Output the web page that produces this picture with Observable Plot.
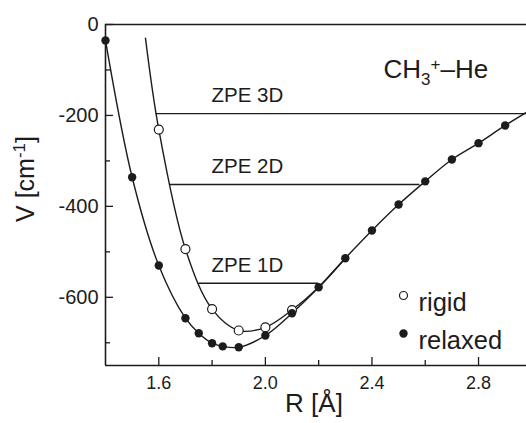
<!DOCTYPE html>
<html><head><meta charset="utf-8">
<script src="https://cdn.jsdelivr.net/npm/d3@7"></script>
<script src="https://cdn.jsdelivr.net/npm/@observablehq/plot@0.6"></script>
<style>
body{margin:0;background:#fff}
#chart svg{font-family:"Liberation Sans",Arial,Helvetica,sans-serif;background:#fff}
</style>
</head><body><div id="chart"></div>
<script>
// ---- data ----
const relaxedR = [1.4, 1.5, 1.6, 1.7, 1.75, 1.8, 1.84, 1.9, 2.0, 2.1, 2.2, 2.3, 2.4, 2.5, 2.6, 2.7, 2.8, 2.9];
const relaxedV = [-35, -336, -530, -646, -679, -701, -708, -710, -684, -635, -578, -514, -453, -396, -345, -297, -261, -222];
const rigidR = [1.6, 1.7, 1.8, 1.9, 2.0, 2.1];
const rigidV = [-231, -494, -626, -673, -666, -628];
// fitted curves (as drawn in the reference)
const relaxedCurveR = [...relaxedR, 3.0];
const relaxedCurveV = [...relaxedV, -186];
const rigidCurveR = [1.55, ...rigidR, 2.2, 2.3];
const rigidCurveV = [-30, ...rigidV, -578, -514];
// zero-point energy levels
const zpeLabels = ["ZPE 3D", "ZPE 2D", "ZPE 1D"];
const zpeV = [-196, -352, -569];
const zpeFrom = [1.59, 1.64, 1.75];
const zpeTo = [2.98, 2.58, 2.2];
// ticks
const xTicks = [1.6, 2.0, 2.4, 2.8];
const xMinor = [1.8, 2.2, 2.6];
const yTicks = [0, -200, -400, -600];
const yMinor = [-100, -300, -500, -700];
const legendLabels = ["rigid", "relaxed"];
const titleText = "CH3+–He";
const xLabel = "R [Å]";
const yLabel = "V [cm-1]";

// ---- build tables ----
const relaxed = relaxedR.map((r, i) => ({r, v: relaxedV[i]}));
const rigid = rigidR.map((r, i) => ({r, v: rigidV[i]}));
const relaxedCurve = relaxedCurveR.map((r, i) => ({r, v: relaxedCurveV[i]}));
const rigidCurve = rigidCurveR.map((r, i) => ({r, v: rigidCurveV[i]}));
const zpe = zpeLabels.map((label, i) => ({label, v: zpeV[i], x1: zpeFrom[i], x2: zpeTo[i]}));

const ink = "#1c1c1c";
const chart = Plot.plot({
  width: 526, height: 423,
  marginTop: 24, marginBottom: 58, marginLeft: 105, marginRight: 0,
  x: {domain: [1.4, 2.98]},
  y: {domain: [-750, 0]},
  style: {color: ink, background: "#fff", fontFamily: "Liberation Sans, Arial, sans-serif"},
  marks: [
    Plot.axisX({ticks: xTicks, tickSize: -8, tickPadding: 19, tickFormat: d => d.toFixed(1), fontSize: 18, label: null, strokeWidth: 1.3}),
    Plot.axisX({ticks: xMinor, tickSize: -5, tickFormat: () => "", label: null, strokeWidth: 1.3}),
    Plot.axisY({ticks: yTicks, tickSize: -8, tickPadding: 15, tickFormat: d => String(d), fontSize: 20, label: null, strokeWidth: 1.3}),
    Plot.axisY({ticks: yMinor, tickSize: -5, tickFormat: () => "", label: null, strokeWidth: 1.3}),
    Plot.ruleY([0], {stroke: ink, strokeWidth: 1.6}),
    Plot.ruleY([-750], {stroke: ink, strokeWidth: 1.6}),
    Plot.ruleX([1.4], {stroke: ink, strokeWidth: 1.6}),
    Plot.ruleY(zpe, {y: "v", x1: "x1", x2: "x2", stroke: ink, strokeWidth: 1.4}),
    Plot.text(zpe, {y: "v", text: "label", frameAnchor: "left", textAnchor: "start", dx: 106, dy: -18, fontSize: 20.5, fill: ink}),
    Plot.line(relaxedCurve, {x: "r", y: "v", curve: "catmull-rom", stroke: ink, strokeWidth: 1.4, clip: true}),
    Plot.line(rigidCurve, {x: "r", y: "v", curve: "catmull-rom", stroke: ink, strokeWidth: 1.4, clip: true}),
    Plot.dot(rigid, {x: "r", y: "v", r: 4.5, stroke: ink, strokeWidth: 1.2, fill: "white"}),
    Plot.dot(relaxed, {x: "r", y: "v", r: 4.2, fill: ink, stroke: "none"}),
    // legend
    Plot.dot([legendLabels[0]], {frameAnchor: "top-left", dx: 298, dy: 271, r: 4, stroke: ink, strokeWidth: 1.2, fill: "white"}),
    Plot.dot([legendLabels[1]], {frameAnchor: "top-left", dx: 298, dy: 309, r: 4.2, fill: ink, stroke: "none"}),
    Plot.text([legendLabels[0]], {text: d => d, frameAnchor: "top-left", dx: 313, dy: 268, textAnchor: "start", fontSize: 25.5, fill: ink}),
    Plot.text([legendLabels[1]], {text: d => d, frameAnchor: "top-left", dx: 313, dy: 306, textAnchor: "start", fontSize: 25.5, fill: ink}),
    // title & axis labels
    Plot.text([titleText], {text: d => d, frameAnchor: "top-left", dx: 278, dy: 35, textAnchor: "start", fontSize: 26, fill: ink}),
    Plot.text([xLabel], {text: d => d, frameAnchor: "bottom", textAnchor: "middle", dx: -2, dy: 46, fontSize: 26, fill: ink}),
    Plot.text([yLabel], {text: d => d, frameAnchor: "left", textAnchor: "middle", rotate: -90, dx: -80, dy: -16, fontSize: 25, fill: ink})
  ]
});
document.getElementById("chart").append(chart);

// rich text (sub/superscripts)
function rich(str, parts) {
  d3.select(chart).selectAll("text").filter(function() { return this.textContent === str; }).each(function() {
    const t = d3.select(this);
    t.text(null);
    for (const p of parts) {
      const ts = t.append("tspan").text(p.t);
      if (p.size) ts.attr("font-size", p.size);
      if (p.dy) ts.attr("dy", p.dy);
    }
  });
}
rich(titleText, [{t: "CH"}, {t: "3", size: 17, dy: 7}, {t: "+", size: 17, dy: -15}, {t: "–He", dy: 8}]);
rich(yLabel, [{t: "V [cm"}, {t: "-1", size: 17, dy: -9}, {t: "]", dy: 9}]);
</script>
</body></html>
